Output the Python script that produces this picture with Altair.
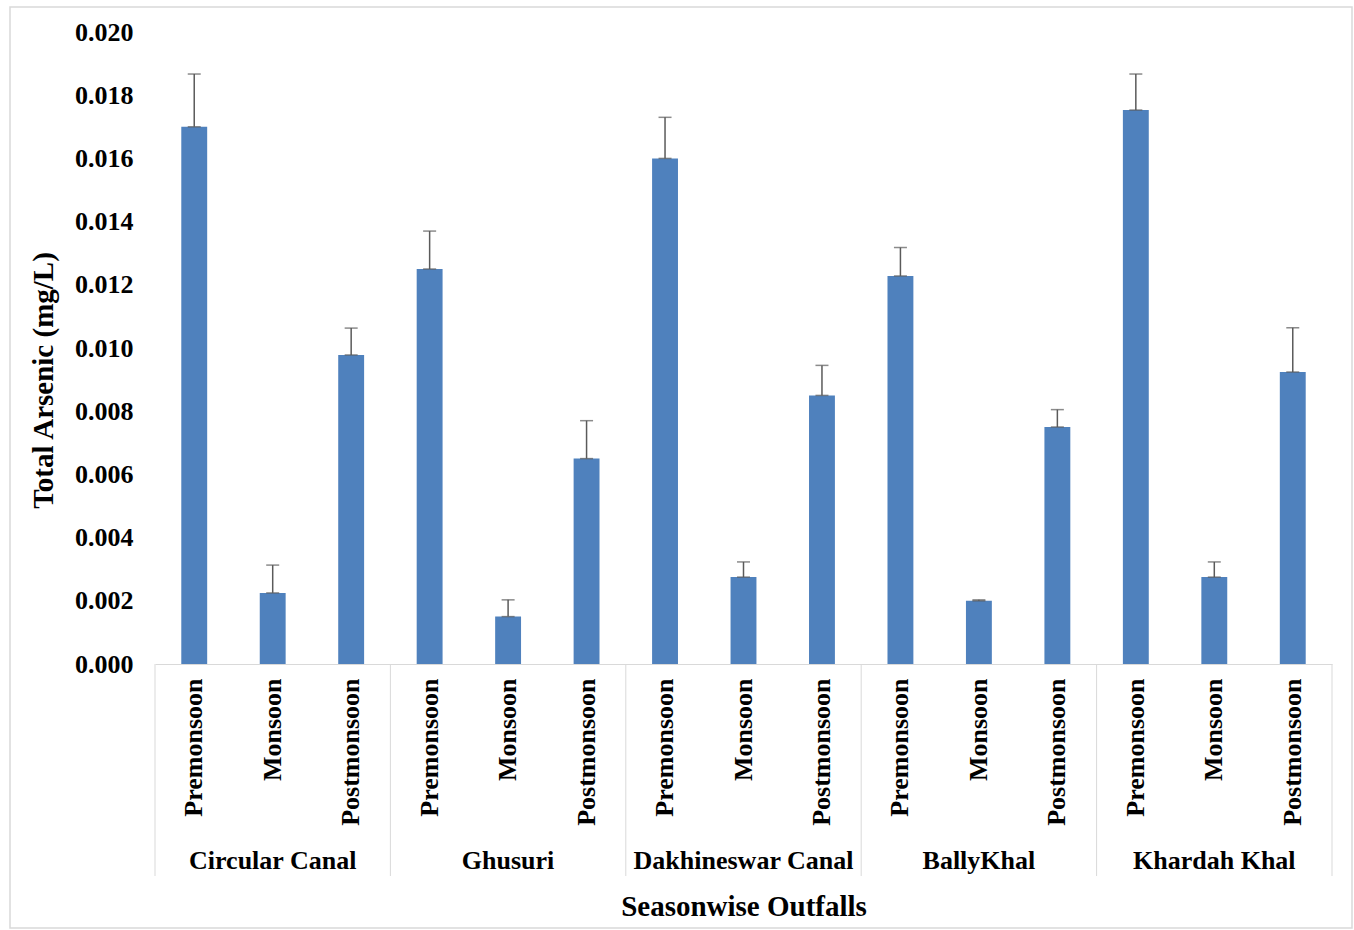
import altair as alt
import pandas as pd

outfalls = ["Circular Canal", "Ghusuri", "Dakhineswar Canal", "BallyKhal", "Khardah Khal"]
seasons = ["Premonsoon", "Monsoon", "Postmonsoon"]

means = [
    [0.0170, 0.00225, 0.00978],
    [0.0125, 0.00150, 0.00650],
    [0.0160, 0.00275, 0.00850],
    [0.01228, 0.00200, 0.00750],
    [0.01753, 0.00275, 0.00924],
]
errors = [
    [0.00167, 0.00088, 0.00085],
    [0.00120, 0.00053, 0.00120],
    [0.00130, 0.00048, 0.00095],
    [0.00090, 0.00003, 0.00055],
    [0.00114, 0.00048, 0.00140],
]

rows = []
for i, o in enumerate(outfalls):
    for j, s in enumerate(seasons):
        rows.append({"key": f"{o}|{s}", "outfall": o, "season": s,
                     "value": means[i][j], "top": means[i][j] + errors[i][j]})
df = pd.DataFrame(rows)
keys = list(df["key"])

groups = pd.DataFrame({"key": [f"{o}|Monsoon" for o in outfalls], "label": outfalls})
seps = pd.DataFrame({"key": [f"{o}|Premonsoon" for o in outfalls]})
last_sep = pd.DataFrame({"key": [keys[-1]]})

W, H = 1177, 632
FONT = "Liberation Serif"
BLUE = "#4F81BD"
ERR = "#5A5A5A"
GRID = "#D9D9D9"

xscale = alt.Scale(domain=keys, paddingInner=0, paddingOuter=0)

xenc = alt.X(
    "key:N", scale=xscale,
    axis=alt.Axis(
        title="Seasonwise Outfalls", labelExpr="split(datum.label, '|')[1]",
        labelAngle=-90, labelFont=FONT, labelFontSize=26, labelFontWeight="bold",
        labelColor="black", labelPadding=14, ticks=False, domainColor=GRID,
        titleFont=FONT, titleFontSize=29, titleFontWeight="bold", titleColor="black",
        titlePadding=67,
    ),
)

bars = alt.Chart(df).mark_bar(color=BLUE, width=alt.RelativeBandSize(0.33)).encode(
    x=xenc,
    y=alt.Y(
        "value:Q",
        scale=alt.Scale(domain=[0, 0.02], nice=False),
        axis=alt.Axis(
            title="Total Arsenic  (mg/L)", format=".3f", values=[i * 0.002 for i in range(11)],
            grid=False, ticks=False, domain=False,
            labelFont=FONT, labelFontSize=26, labelFontWeight="bold", labelColor="black",
            labelPadding=22, titleFont=FONT, titleFontSize=29, titleFontWeight="bold",
            titleColor="black", titlePadding=16, titleY=348,
        ),
    ),
)

err_rule = alt.Chart(df).mark_rule(color=ERR, strokeWidth=1.5).encode(
    x=alt.X("key:N", scale=xscale), y="value:Q", y2="top:Q"
)
err_cap = alt.Chart(df).mark_tick(color=ERR, thickness=1.5, size=13).encode(
    x=alt.X("key:N", scale=xscale), y="top:Q"
)
err_base = alt.Chart(df).mark_tick(color=ERR, thickness=1.5, size=13).encode(
    x=alt.X("key:N", scale=xscale), y="value:Q"
)

group_text = alt.Chart(groups).mark_text(
    font=FONT, fontSize=26, fontWeight="bold", color="black", baseline="middle"
).encode(x=alt.X("key:N", scale=xscale), y=alt.value(H + 197), text="label:N")

sep_rules = alt.Chart(seps).mark_rule(color=GRID, strokeWidth=1).encode(
    x=alt.X("key:N", scale=xscale, bandPosition=0), y=alt.value(H), y2=alt.value(H + 212)
)
sep_last = alt.Chart(last_sep).mark_rule(color=GRID, strokeWidth=1).encode(
    x=alt.X("key:N", scale=xscale, bandPosition=1), y=alt.value(H), y2=alt.value(H + 212)
)

frame = alt.Chart(last_sep).mark_rect(
    fill="white", fillOpacity=0, stroke=GRID, strokeWidth=1.5
).encode(
    x=alt.value(-145), x2=alt.value(1197), y=alt.value(-25), y2=alt.value(896)
)

chart = alt.layer(
    frame, bars, err_rule, err_cap, err_base, sep_rules, sep_last, group_text
).properties(
    width=W, height=H,
    autosize=alt.AutoSizeParams(type="none"),
    padding={"left": 155, "top": 32, "right": 22, "bottom": 266},
).configure_view(strokeWidth=0, stroke="transparent")

chart.save("out.html", embed_options={"renderer": "svg", "actions": False})
